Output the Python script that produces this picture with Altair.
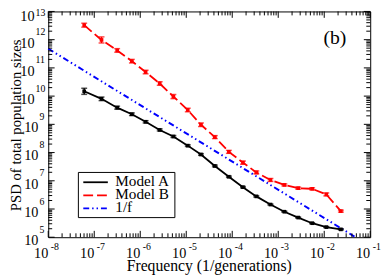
import altair as alt
import pandas as pd

# ---------------- data ----------------
freq = [6.05e-8, 1.44e-7, 3.15e-7, 6.58e-7, 1.31e-6, 2.65e-6, 5.26e-6, 1.08e-5,
        2.09e-5, 4.19e-5, 8.45e-5, 1.71e-4, 3.34e-4, 6.78e-4, 1.36e-3, 2.72e-3,
        5.47e-3, 1.11e-2, 2.30e-2]
psd_model_a = [1.48e10, 8.02e9, 3.90e9, 2.28e9, 1.23e9, 6.34e8, 3.71e8, 1.76e8,
               8.55e7, 3.35e7, 1.39e7, 5.94e6, 2.80e6, 1.44e6, 8.02e5, 4.97e5,
               3.14e5, 2.28e5, 1.90e5]
psd_model_b = [3.26e12, 9.79e11, 4.16e11, 1.73e11, 7.14e10, 2.80e10, 9.64e9, 3.22e9,
               9.68e8, 3.53e8, 1.06e8, 4.40e7, 1.98e7, 1.07e7, 7.14e6, 5.48e6,
               5.19e6, 3.29e6, 8.41e5]
# error-bar half widths, in decades
err_model_a = [0.108, 0.063, 0.052, 0.045, 0.040, 0.035, 0.035, 0.030, 0.030, 0.030,
               0.025, 0.025, 0.025, 0.020, 0.020, 0.020, 0.020, 0.020, 0.020]
err_model_b = [0.070, 0.108, 0.063, 0.063, 0.063, 0.063, 0.073, 0.063, 0.063, 0.052,
               0.052, 0.056, 0.052, 0.052, 0.035, 0.035, 0.035, 0.052, 0.035]
one_over_f_freq = [1e-8, 4.8e-2]
one_over_f_psd = [4.8e11, 1e5]

series_names = ["Model A", "Model B", "1/f"]
x_tick_exponents = [-8, -7, -6, -5, -4, -3, -2, -1]
y_tick_exponents = [5, 6, 7, 8, 9, 10, 11, 12, 13]
x_title = "Frequency (1/generations)"
y_title = "PSD of total population sizes"
panel_label = "(b)"

# ---------------- layout / style ----------------
W, H = 328, 230
FONT = "Liberation Serif"
BLACK, RED, BLUE = "#000000", "#ff0000", "#0000ff"
DASH_B = [10, 4]
DASH_F = [6, 3, 1.5, 3, 1.5, 3]

xscale = alt.Scale(type="log", domain=[1e-8, 1e-1], nice=False)
yscale = alt.Scale(type="log", domain=[1e5, 1e13], nice=False)


def X(field):
    return alt.X(field, type="quantitative", scale=xscale, axis=None)


def Y(field):
    return alt.Y(field, type="quantitative", scale=yscale, axis=None)


def series_df(psd, err):
    df = pd.DataFrame({"f": freq, "psd": psd, "err": err})
    df["lo"] = df["psd"] / 10 ** df["err"]
    df["hi"] = df["psd"] * 10 ** df["err"]
    return df


df_a = series_df(psd_model_a, err_model_a)
df_b = series_df(psd_model_b, err_model_b)
df_f = pd.DataFrame({"f": one_over_f_freq, "psd": one_over_f_psd})

layers = []

# 1/f line
layers.append(alt.Chart(df_f).mark_line(color=BLUE, strokeWidth=2, strokeDash=DASH_F)
              .encode(x=X("f"), y=Y("psd")))


def model_layers(df, color, dash=None):
    line_kw = dict(color=color, strokeWidth=1.8)
    if dash:
        line_kw["strokeDash"] = dash
    out = [
        alt.Chart(df).mark_line(**line_kw).encode(x=X("f"), y=Y("psd")),
        alt.Chart(df).mark_rule(color=color, strokeWidth=1.5)
        .encode(x=X("f"), y=Y("lo"), y2="hi"),
        alt.Chart(df).mark_tick(color=color, orient="horizontal", size=6, thickness=1.5)
        .encode(x=X("f"), y=Y("lo")),
        alt.Chart(df).mark_tick(color=color, orient="horizontal", size=6, thickness=1.5)
        .encode(x=X("f"), y=Y("hi")),
        alt.Chart(df).mark_square(color=color, size=14, opacity=1)
        .encode(x=X("f"), y=Y("psd")),
    ]
    return out


layers += model_layers(df_a, BLACK)
layers += model_layers(df_b, RED, DASH_B)

# ---------------- ticks (inside, on all four sides) ----------------
MAJ, MIN = 6.5, 4
x_major = pd.DataFrame({"v": [10.0 ** e for e in x_tick_exponents]})
x_minor = pd.DataFrame({"v": [m * 10.0 ** e for e in x_tick_exponents[:-1] for m in range(2, 10)]})
y_major = pd.DataFrame({"v": [10.0 ** e for e in y_tick_exponents]})
y_minor = pd.DataFrame({"v": [m * 10.0 ** e for e in y_tick_exponents[:-1] for m in range(2, 10)]})

for df, L in ((x_major, MAJ), (x_minor, MIN)):
    layers.append(alt.Chart(df).mark_rule(color=BLACK, strokeWidth=1)
                  .encode(x=X("v"), y=alt.value(H), y2=alt.value(H - L)))
    layers.append(alt.Chart(df).mark_rule(color=BLACK, strokeWidth=1)
                  .encode(x=X("v"), y=alt.value(0), y2=alt.value(L)))
for df, L in ((y_major, MAJ), (y_minor, MIN)):
    layers.append(alt.Chart(df).mark_rule(color=BLACK, strokeWidth=1)
                  .encode(y=Y("v"), x=alt.value(0), x2=alt.value(L)))
    layers.append(alt.Chart(df).mark_rule(color=BLACK, strokeWidth=1)
                  .encode(y=Y("v"), x=alt.value(W), x2=alt.value(W - L)))

# ---------------- tick labels: "10" with superscript exponent ----------------
BASE_FS, EXP_FS = 14.5, 10
xl = pd.DataFrame({"v": [10.0 ** e for e in x_tick_exponents],
                   "lab": [str(e) for e in x_tick_exponents]})
layers.append(alt.Chart(xl).mark_text(text="10", align="right", baseline="alphabetic",
                                      dx=0, font=FONT, fontSize=BASE_FS, color=BLACK)
              .encode(x=X("v"), y=alt.value(H + 21)))
layers.append(alt.Chart(xl).mark_text(align="left", baseline="alphabetic", dx=2.5,
                                      font=FONT, fontSize=EXP_FS, color=BLACK)
              .encode(x=X("v"), y=alt.value(H + 13), text="lab:N"))

yl = pd.DataFrame({"v": [10.0 ** e for e in y_tick_exponents],
                   "e": y_tick_exponents,
                   "lab": [str(e) for e in y_tick_exponents]})
groups = [("datum.e < 10", -10, -8.8, 8, -4.5),
          ("datum.e >= 10 && datum.e < 13", -14, -13, 8, -4.5),
          ("datum.e >= 13", -14, -13, 9.5, 4.5)]
for cond, xb, xe, dyb, dye in groups:
    base = alt.Chart(yl).transform_filter(cond)
    layers.append(base.mark_text(text="10", align="right", baseline="alphabetic", dy=dyb,
                                 font=FONT, fontSize=BASE_FS, color=BLACK)
                  .encode(x=alt.value(xb), y=Y("v")))
    layers.append(base.mark_text(align="left", baseline="alphabetic", dy=dye,
                                 font=FONT, fontSize=EXP_FS, color=BLACK)
                  .encode(x=alt.value(xe), y=Y("v"), text="lab:N"))

# ---------------- titles ----------------
txt = pd.DataFrame({"t": [x_title, y_title, panel_label]})
layers.append(alt.Chart(txt).transform_filter(alt.datum.t == x_title)
              .mark_text(align="center", baseline="alphabetic", font=FONT, fontSize=16, color=BLACK)
              .encode(x=alt.value(W / 2), y=alt.value(H + 34), text="t:N"))
layers.append(alt.Chart(txt).transform_filter(alt.datum.t == y_title)
              .mark_text(align="center", baseline="alphabetic", angle=270, font=FONT,
                         fontSize=15, color=BLACK)
              .encode(x=alt.value(-28), y=alt.value(116), text="t:N"))
layers.append(alt.Chart(txt).transform_filter(alt.datum.t == panel_label)
              .mark_text(align="center", baseline="alphabetic", font=FONT, fontSize=20, color=BLACK)
              .encode(x=alt.value(292), y=alt.value(33), text="t:N"))

# ---------------- legend ----------------
leg = pd.DataFrame({"name": series_names})
layers.append(alt.Chart(leg).transform_filter(alt.datum.name == series_names[0])
              .mark_rect(fill="white", stroke=BLACK, strokeWidth=1)
              .encode(x=alt.value(30.7), x2=alt.value(129), y=alt.value(164), y2=alt.value(210)))
leg_style = [(BLACK, None, 1.8), (RED, DASH_B, 1.8), (BLUE, DASH_F, 2)]
leg_y = [174, 187.3, 200.6]
for name, (col, dash, sw), yy in zip(series_names, leg_style, leg_y):
    kw = dict(color=col, strokeWidth=sw)
    if dash:
        kw["strokeDash"] = dash
    sel = alt.Chart(leg).transform_filter(alt.datum.name == name)
    layers.append(sel.mark_rule(**kw)
                  .encode(x=alt.value(35.7), x2=alt.value(60.7), y=alt.value(yy)))
    layers.append(sel.mark_text(align="left", baseline="alphabetic", font=FONT,
                                fontSize=15.5, color=BLACK)
                  .encode(x=alt.value(68.3), y=alt.value(yy + 3.5), text="name:N"))

chart = (
    alt.layer(*layers)
    .properties(width=W, height=H, autosize=alt.AutoSizeParams(type="none"),
                padding={"left": 41, "top": 1, "right": 12, "bottom": 38},
                background="white")
    .configure_view(stroke=BLACK, strokeWidth=1)
)

chart.save("out.html", embed_options={"renderer": "svg", "actions": False})
